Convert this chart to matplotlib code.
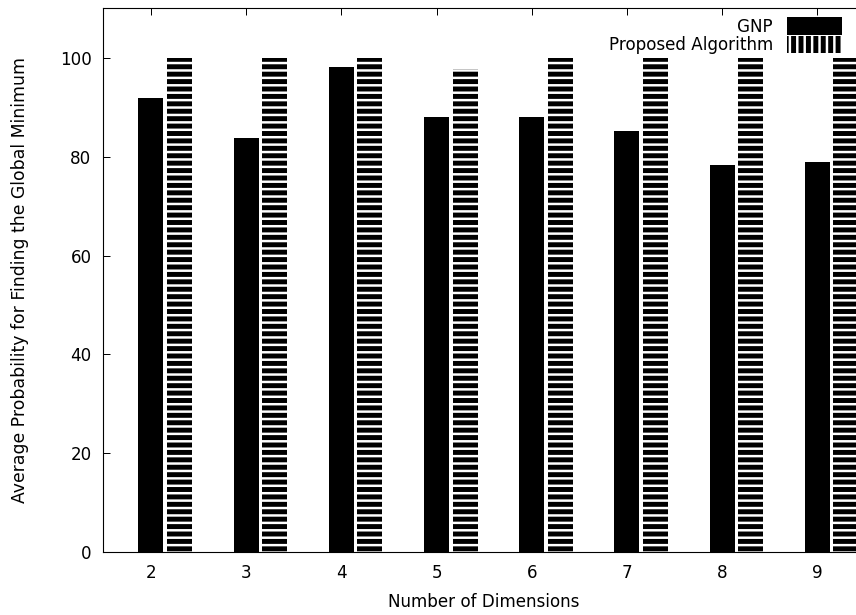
import matplotlib
matplotlib.use("Agg")
import matplotlib.pyplot as plt
from matplotlib.patches import Patch
import numpy as np

dimensions = [2, 3, 4, 5, 6, 7, 8, 9]
gnp = [91.8, 83.7, 98.1, 88.0, 88.0, 85.1, 78.4, 78.9]
proposed = [100, 100, 100, 97.7, 100, 100, 100, 100]
series_labels = ["GNP", "Proposed Algorithm"]
x_label = "Number of Dimensions"
y_label = "Average Probability for Finding the Global Minimum"

DPI = 89
FS = 13.6
plt.rcParams["font.family"] = ["DejaVu Sans"]
plt.rcParams["font.size"] = FS
plt.rcParams["hatch.color"] = "white"
plt.rcParams["hatch.linewidth"] = 2.0

fig = plt.figure(figsize=(856 / DPI, 615 / DPI), dpi=DPI)
ax = fig.add_axes([0.1207, 0.1020, 1.0105 - 0.1207, 0.9865 - 0.1020])

x = np.array(dimensions, dtype=float)
w = 0.262
ax.bar(x, gnp, width=w, color="black", linewidth=0)
ax.bar(x + 0.30, proposed, width=w, facecolor="black", hatch="--", linewidth=0)

ax.set_xlim(1.5, 9.5)
ax.set_ylim(0, 110)
ax.set_xticks(dimensions)
ax.set_yticks([0, 20, 40, 60, 80, 100])
ax.tick_params(direction="in", length=5.7, width=0.8, top=True, right=True,
               pad=9.5, labelsize=FS)
for s in ax.spines.values():
    s.set_linewidth(0.9)

ax.set_xlabel(x_label, fontsize=FS)
ax.xaxis.set_label_coords(0.5, -0.075)
ax.set_ylabel(y_label, fontsize=FS + 0.4)
ax.yaxis.set_label_coords(-0.098, 0.5)

handles = [Patch(facecolor="black", linewidth=0),
           Patch(facecolor="black", hatch="||", linewidth=0)]
leg = ax.legend(handles, series_labels, loc="upper right",
                bbox_to_anchor=(842 / 856, 1 - 17 / 615),
                bbox_transform=fig.transFigure, frameon=False,
                handlelength=3.3, handleheight=1.25, labelspacing=0.0,
                handletextpad=0.8, markerfirst=False, borderaxespad=0,
                borderpad=0, fontsize=FS)
for t in leg.get_texts():
    t.set_ha("right")

fig.savefig("out.png", dpi=DPI)
